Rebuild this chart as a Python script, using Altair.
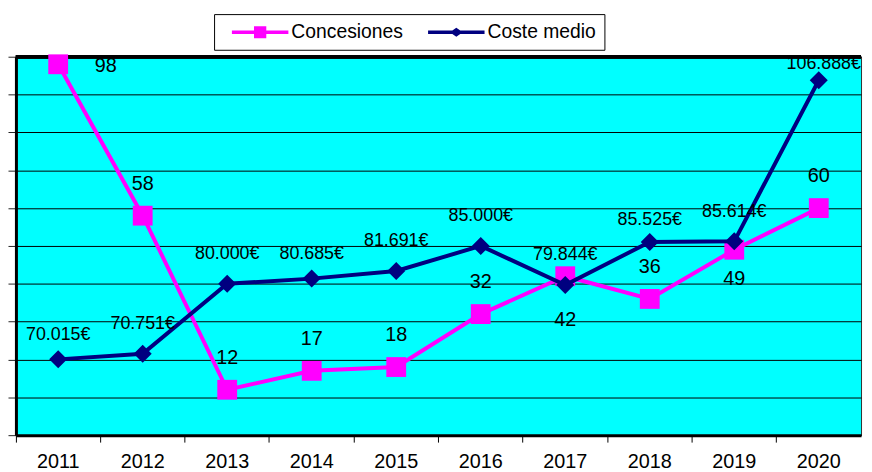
import altair as alt
import pandas as pd

# ---- data ----
years = [2011, 2012, 2013, 2014, 2015, 2016, 2017, 2018, 2019, 2020]
concesiones = [98, 58, 12, 17, 18, 32, 42, 36, 49, 60]
coste_medio = [70015, 70751, 80000, 80685, 81691, 85000, 79844, 85525, 85614, 106888]
series = ["Concesiones", "Coste medio"]
colors = ["#ff00ff", "#000080"]


def euro(v):
    return f"{v:,}".replace(",", ".") + "€"


year_str = [str(y) for y in years]
df_c = pd.DataFrame({"year": year_str, "serie": series[0], "value": concesiones,
                     "label": [str(v) for v in concesiones]})
df_m = pd.DataFrame({"year": year_str, "serie": series[1], "value": coste_medio,
                     "label": [euro(v) for v in coste_medio]})

PLOT_W, PLOT_H = 853, 382
FONT = "Liberation Sans"

x_enc = alt.X(
    "year:O",
    sort=year_str,
    scale=alt.Scale(type="band", paddingInner=0, paddingOuter=0),
    axis=alt.Axis(title=None, domain=True, domainColor="black", domainWidth=3,
                  bandPosition=0, tickSize=7, tickColor="black", tickWidth=1,
                  labelAngle=0, labelFontSize=20, labelColor="black", labelFont=FONT,
                  labelPadding=10, grid=False),
)

y_c_scale = alt.Scale(domain=[0, 100], nice=False, zero=False)
y_c_axis = alt.Axis(title=None, values=list(range(0, 101, 10)), labels=False,
                    domain=True, domainColor="black", domainWidth=3,
                    tickSize=8, tickColor="#222", tickWidth=1,
                    grid=True, gridColor="black", gridWidth=1, gridOpacity=1)
y_c = alt.Y("value:Q", scale=y_c_scale, axis=y_c_axis)
y_m = alt.Y("value:Q", scale=alt.Scale(domain=[60000, 110000], nice=False, zero=False),
            axis=None)

# legend symbols: a thick line with the series marker in the middle
# (symbol unit = 10 px; line runs from the entry start to 5.7 units right)
bar = "M0,-0.18H5.7V0.18H0Z"
sq = bar + "M2.23,-0.6H3.47V0.6H2.23Z"
dm = bar + "M2.2,0L2.85,-0.45L3.5,0L2.85,0.45Z"

legend = alt.Legend(
    orient="none", legendX=200, legendY=-43, direction="horizontal", title=None,
    labelFont=FONT, labelFontSize=19.5, labelColor="black", symbolSize=400,
    symbolOpacity=1, symbolStrokeWidth=0, strokeColor="black", fillColor="white",
    padding=8, columnPadding=15, labelOffset=50, cornerRadius=0,
)
color_enc = alt.Color("serie:N", scale=alt.Scale(domain=series, range=colors), legend=legend)
shape_enc = alt.Shape("serie:N", scale=alt.Scale(domain=series, range=[sq, dm]), legend=legend)


def labels(df, y, sel, dx=0, dy=0, size=20):
    return (alt.Chart(df)
            .transform_filter(alt.FieldOneOfPredicate(field="year", oneOf=sel))
            .mark_text(dx=dx, dy=dy, fontSize=size, color="black", font=FONT,
                       baseline="middle", align="center")
            .encode(x=x_enc, y=y, text="label:N"))


legend_layer = (alt.Chart(df_c).transform_filter("false")
                .mark_point(filled=True, size=400, opacity=1, strokeWidth=0)
                .encode(x=x_enc, y=y_c, color=color_enc, shape=shape_enc))

top_frame = (alt.Chart(df_c).mark_rule(color="black", strokeWidth=3)
             .encode(y=alt.Y(datum=100, type="quantitative", scale=y_c_scale, axis=y_c_axis)))

line_c = alt.Chart(df_c).mark_line(strokeWidth=4, color=colors[0]).encode(x=x_enc, y=y_c)
pts_c = alt.Chart(df_c).mark_point(shape="square", filled=True, size=400, opacity=1,
                                   color=colors[0]).encode(x=x_enc, y=y_c)
lab_c = [
    labels(df_c, y_c, ["2012", "2013", "2014", "2015", "2016", "2018", "2020"], dy=-32),
    labels(df_c, y_c, ["2011"], dx=48, dy=2),
    labels(df_c, y_c, ["2017"], dy=44),
    labels(df_c, y_c, ["2019"], dy=30),
]

line_m = alt.Chart(df_m).mark_line(strokeWidth=4, color=colors[1]).encode(x=x_enc, y=y_m)
pts_m = alt.Chart(df_m).mark_point(shape="diamond", filled=True, size=330, opacity=1,
                                   color=colors[1]).encode(x=x_enc, y=y_m)
lab_m = [
    labels(df_m, y_m, ["2012", "2013", "2015", "2016", "2017", "2019"], dy=-30, size=18),
    labels(df_m, y_m, ["2011", "2014"], dy=-25, size=18),
    labels(df_m, y_m, ["2018"], dy=-22, size=18),
    labels(df_m, y_m, ["2020"], dx=5, dy=-16, size=18),
]

conc = alt.layer(legend_layer, line_c, top_frame, pts_c, *lab_c)
coste = alt.layer(line_m, pts_m, *lab_m)

chart = (
    alt.layer(conc, coste)
    .resolve_scale(y="independent")
    .properties(width=PLOT_W, height=PLOT_H,
                padding={"left": 8, "top": 47, "right": 3, "bottom": 35},
                autosize=alt.AutoSizeParams(type="none"))
    .configure(font=FONT)
    .configure_view(fill="#00ffff", stroke="#333333", strokeWidth=1)
)

chart.save("out.html", embed_options={"renderer": "svg", "actions": False})
